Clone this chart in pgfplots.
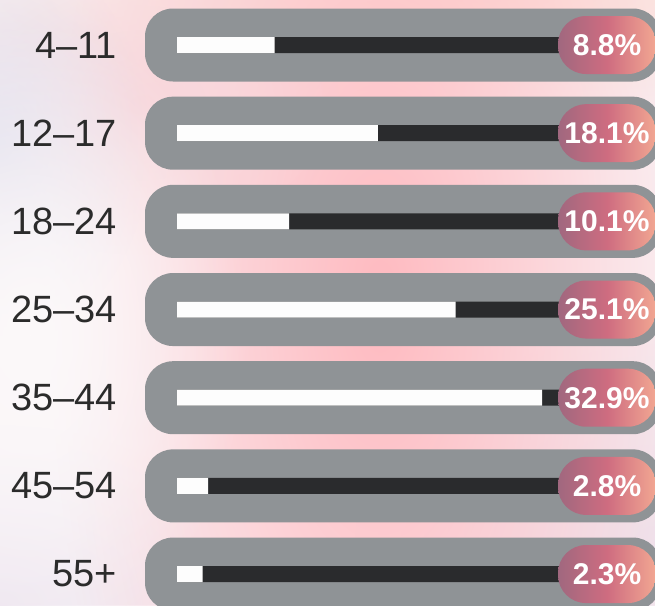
\documentclass[border=0pt]{standalone}
\usepackage{pgfplots}
\pgfplotsset{compat=1.18}
\usepackage{fontspec}
\setmainfont{Liberation Sans}
\usetikzlibrary{fadings}
\definecolor{pill}{HTML}{8F9396}
\definecolor{track}{HTML}{2A2B2D}
\definecolor{barw}{HTML}{FDFDFD}
\definecolor{ga}{HTML}{A0687F}
\definecolor{gb}{HTML}{CE6C80}
\definecolor{gc}{HTML}{F2A792}
\definecolor{lbl}{HTML}{2B2B2B}
\definecolor{bgbase}{HTML}{F9F3F6}
\definecolor{lav}{HTML}{E0DEEC}
\definecolor{lav2}{HTML}{EEE6F0}
\definecolor{pinkg}{HTML}{FFBAC0}
\definecolor{pinkl}{HTML}{F8D6DB}
\definecolor{peach}{HTML}{FCE3DD}
\definecolor{whiteg}{HTML}{FCF9FA}
\tikzfading[name=glow, inner color=transparent!0, outer color=transparent!100]
\begin{document}
\begin{tikzpicture}
\begin{scope}[x=1pt,y=1pt]
\fill[bgbase] (0,0) rectangle (655,605);
\fill[peach, path fading=glow] (480,610) ellipse (640 and 120);
\fill[lav2, path fading=glow] (0,0) ellipse (260 and 180);
\fill[lav2, path fading=glow] (655,60) ellipse (300 and 260);
\fill[pinkg, path fading=glow] (380,305) ellipse (330 and 760);
\fill[pinkl, path fading=glow] (140,500) ellipse (200 and 150);
\fill[lav, path fading=glow] (0,460) ellipse (150 and 200);
\fill[whiteg, path fading=glow] (30,270) ellipse (220 and 320);
\end{scope}
\begin{axis}[at={(0pt,0pt)}, anchor=south west, scale only axis,
  width=655pt, height=605pt,
  xmin=-15.946, xmax=43.063, ymin=0.4896, ymax=7.351, y dir=reverse,
  hide axis, clip=false]
% pills
\addplot[fill=pill, draw=none, rounded corners=28pt] coordinates {(-2.883,0.586) (43.6,0.586) (43.6,1.414) (-2.883,1.414)} --cycle;
\addplot[fill=pill, draw=none, rounded corners=28pt] coordinates {(-2.883,1.586) (43.6,1.586) (43.6,2.414) (-2.883,2.414)} --cycle;
\addplot[fill=pill, draw=none, rounded corners=28pt] coordinates {(-2.883,2.586) (43.6,2.586) (43.6,3.414) (-2.883,3.414)} --cycle;
\addplot[fill=pill, draw=none, rounded corners=28pt] coordinates {(-2.883,3.586) (43.6,3.586) (43.6,4.414) (-2.883,4.414)} --cycle;
\addplot[fill=pill, draw=none, rounded corners=28pt] coordinates {(-2.883,4.586) (43.6,4.586) (43.6,5.414) (-2.883,5.414)} --cycle;
\addplot[fill=pill, draw=none, rounded corners=28pt] coordinates {(-2.883,5.586) (43.6,5.586) (43.6,6.414) (-2.883,6.414)} --cycle;
\addplot[fill=pill, draw=none, rounded corners=28pt] coordinates {(-2.883,6.586) (43.6,6.586) (43.6,7.414) (-2.883,7.414)} --cycle;
% tracks
\addplot[xbar, bar width=16pt, bar shift=0pt, fill=track, draw=none] coordinates {(36,1) (36,2) (36,3) (36,4) (36,5) (36,6) (36,7)};
% values
\addplot[xbar, bar width=16pt, bar shift=0pt, fill=barw, draw=none] coordinates {(8.8,1) (18.1,2) (10.1,3) (25.1,4) (32.9,5) (2.8,6) (2.3,7)};
% category labels
\addplot[draw=none, mark=none, nodes near coords, point meta=explicit symbolic,
  nodes near coords style={anchor=east, inner sep=0pt, text=lbl, font=\fontsize{38}{40}\selectfont}]
  coordinates {(-5.405,1) [4--11] (-5.405,2) [12--17] (-5.405,3) [18--24] (-5.405,4) [25--34] (-5.405,5) [35--44] (-5.405,6) [45--54] (-5.405,7) [55+]};
% value badges
\addplot[draw=none, mark=none, nodes near coords, point meta=explicit symbolic,
  nodes near coords style={anchor=center, inner sep=0pt, rounded corners=28pt,
    minimum width=98pt, minimum height=58pt, left color=ga, right color=gc, middle color=gb,
    text=white, font=\bfseries\fontsize{30}{32}\selectfont}]
  coordinates {(38.74,1) [8.8\%] (38.74,2) [18.1\%] (38.74,3) [10.1\%] (38.74,4) [25.1\%] (38.74,5) [32.9\%] (38.74,6) [2.8\%] (38.74,7) [2.3\%]};
\end{axis}
\pgfresetboundingbox
\useasboundingbox (0pt,0pt) rectangle (655pt,605pt);
\end{tikzpicture}
\end{document}
